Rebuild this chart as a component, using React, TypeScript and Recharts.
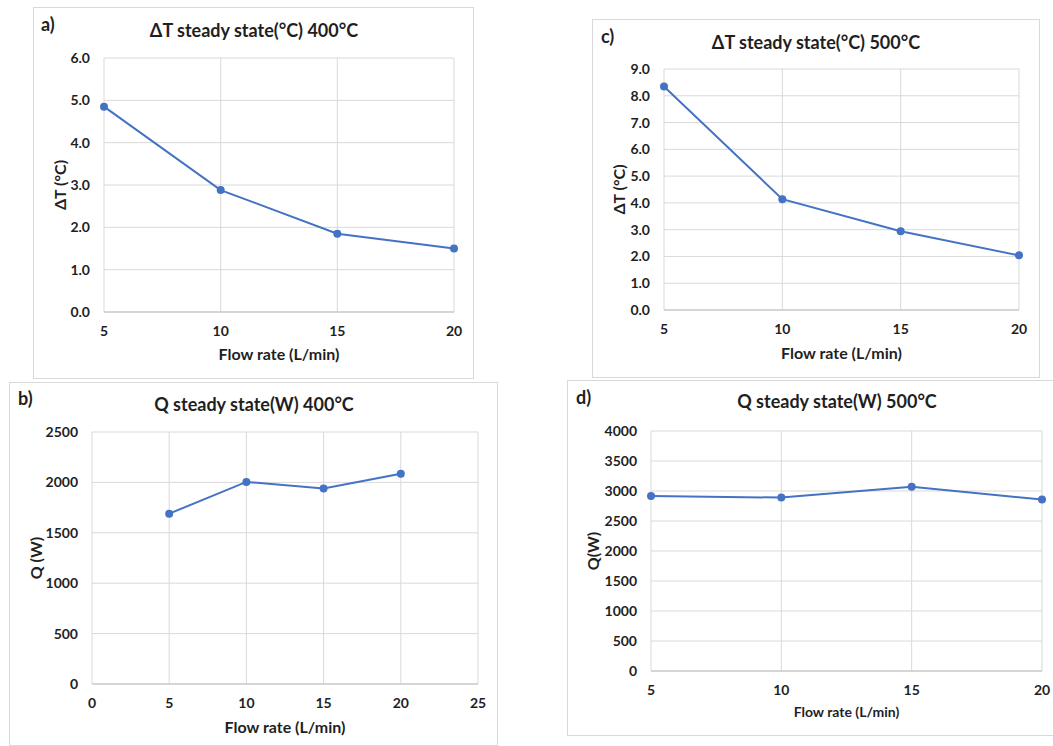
import React from 'react';
import { LineChart, Line, XAxis, YAxis, CartesianGrid, Label } from 'recharts';

const flowRates = [5, 10, 15, 20];
const deltaT400 = [4.85, 2.88, 1.85, 1.5];
const deltaT500 = [8.35, 4.14, 2.94, 2.04];
const q400 = [1690, 2005, 1940, 2085];
const q500 = [2918, 2890, 3071, 2857];

const dtTicks400 = [0, 1, 2, 3, 4, 5, 6];
const dtTicks500 = [0, 1, 2, 3, 4, 5, 6, 7, 8, 9];
const qTicks400 = [0, 500, 1000, 1500, 2000, 2500];
const qTicks500 = [0, 500, 1000, 1500, 2000, 2500, 3000, 3500, 4000];
const xTicksFlow = [5, 10, 15, 20];
const xTicksWide = [0, 5, 10, 15, 20, 25];

const FONT = 'Lato, "Open Sans", sans-serif';
const INK = '#1f1f1f';
const GRID = '#d9d9d9';
const BLUE = '#4472c4';

type Rect = { l: number; t: number; r: number; b: number };

interface PanelProps {
  frame: { x: number; y: number; w: number; h: number };
  plot: Rect;
  letter: string;
  letterPos: [number, number];
  title: string;
  titlePos: [number, number];
  values: number[];
  xTicks: number[];
  yTicks: number[];
  yFmt: (v: number) => string;
  yLabel: string;
  yLabelX: number;
  xLabelY: number;
  xLabelSize: number;
}

const Panel: React.FC<PanelProps> = (p) => {
  const data = flowRates.map((f, i) => ({ flow: f, value: p.values[i] }));
  const padL = 80;
  const padR = 20;
  const padT = 10;
  const padB = 70;
  const left = p.plot.l - padL;
  const top = p.plot.t - padT;
  const width = p.plot.r - p.plot.l + padL + padR;
  const height = p.plot.b - p.plot.t + padT + padB;
  const tickStyle = { fill: INK, fontSize: 14, fontWeight: 700, fontFamily: FONT };

  return (
    <>
      <div
        style={{
          position: 'absolute',
          left: p.frame.x,
          top: p.frame.y,
          width: p.frame.w,
          height: p.frame.h,
          border: `1px solid ${GRID}`,
          boxSizing: 'border-box',
          background: '#fff',
        }}
      />
      <div
        style={{
          position: 'absolute',
          left: p.letterPos[0],
          top: p.letterPos[1] - 10,
          lineHeight: '20px',
          fontFamily: FONT,
          fontWeight: 700,
          fontSize: 18,
          color: INK,
        }}
      >
        {p.letter}
      </div>
      <div
        style={{
          position: 'absolute',
          left: p.titlePos[0] - 200,
          width: 400,
          top: p.titlePos[1] - 10,
          lineHeight: '20px',
          textAlign: 'center',
          fontFamily: FONT,
          fontWeight: 700,
          fontSize: 18,
          color: INK,
        }}
      >
        {p.title}
      </div>
      <div style={{ position: 'absolute', left, top }}>
        <LineChart
          width={width}
          height={height}
          data={data}
          margin={{ top: padT, right: padR, left: 0, bottom: 0 }}
        >
          <CartesianGrid stroke={GRID} strokeWidth={1} />
          <XAxis
            dataKey="flow"
            type="number"
            domain={[p.xTicks[0], p.xTicks[p.xTicks.length - 1]]}
            ticks={p.xTicks}
            interval={0}
            height={padB}
            tickSize={0}
            tickMargin={14}
            tickLine={false}
            axisLine={{ stroke: '#bfbfbf' }}
            tick={tickStyle}
          >
            <Label
              value="Flow rate (L/min)"
              position="insideTop"
              offset={p.xLabelY - p.plot.b - 0.36 * p.xLabelSize}
              style={{ fill: INK, fontSize: p.xLabelSize, fontWeight: 700, fontFamily: FONT }}
            />
          </XAxis>
          <YAxis
            type="number"
            domain={[p.yTicks[0], p.yTicks[p.yTicks.length - 1]]}
            ticks={p.yTicks}
            interval={0}
            width={padL}
            tickSize={0}
            tickMargin={14}
            tickLine={false}
            axisLine={false}
            tick={tickStyle}
            tickFormatter={p.yFmt}
          >
            <Label
              value={p.yLabel}
              position="insideLeft"
              angle={-90}
              offset={p.yLabelX - left}
              style={{ fill: INK, fontSize: 16, fontWeight: 700, fontFamily: FONT, textAnchor: 'middle' }}
            />
          </YAxis>
          <Line
            type="linear"
            dataKey="value"
            stroke={BLUE}
            strokeWidth={2}
            dot={{ r: 4, fill: BLUE, stroke: BLUE, strokeWidth: 0 }}
            isAnimationActive={false}
          />
        </LineChart>
      </div>
    </>
  );
};

const oneDecimal = (v: number) => v.toFixed(1);
const plain = (v: number) => String(v);

export default function App() {
  return (
    <div
      style={{
        position: 'absolute',
        left: 0,
        top: 0,
        width: 1053,
        height: 746,
        overflow: 'hidden',
        background: '#fff',
      }}
    >
      <Panel
        frame={{ x: 33, y: 7, w: 441, h: 372 }}
        plot={{ l: 104, t: 58, r: 454, b: 312 }}
        letter="a)"
        letterPos={[41, 24]}
        title="ΔT steady state(°C) 400°C"
        titlePos={[254, 30]}
        values={deltaT400}
        xTicks={xTicksFlow}
        yTicks={dtTicks400}
        yFmt={oneDecimal}
        yLabel="ΔT (°C)"
        yLabelX={60}
        xLabelY={354}
        xLabelSize={16}
      />
      <Panel
        frame={{ x: 592, y: 19, w: 448, h: 359 }}
        plot={{ l: 664, t: 69, r: 1019, b: 310 }}
        letter="c)"
        letterPos={[601, 36]}
        title="ΔT steady state(°C) 500°C"
        titlePos={[816, 42]}
        values={deltaT500}
        xTicks={xTicksFlow}
        yTicks={dtTicks500}
        yFmt={oneDecimal}
        yLabel="ΔT (°C)"
        yLabelX={619}
        xLabelY={353}
        xLabelSize={16}
      />
      <Panel
        frame={{ x: 9, y: 382, w: 489, h: 364 }}
        plot={{ l: 92, t: 432, r: 478, b: 684 }}
        letter="b)"
        letterPos={[18, 398]}
        title="Q steady state(W) 400°C"
        titlePos={[254, 404]}
        values={q400}
        xTicks={xTicksWide}
        yTicks={qTicks400}
        yFmt={plain}
        yLabel="Q (W)"
        yLabelX={36}
        xLabelY={727}
        xLabelSize={16}
      />
      <Panel
        frame={{ x: 567, y: 380, w: 500, h: 356 }}
        plot={{ l: 651, t: 431, r: 1042, b: 671 }}
        letter="d)"
        letterPos={[576, 397]}
        title="Q steady state(W) 500°C"
        titlePos={[837, 401]}
        values={q500}
        xTicks={xTicksFlow}
        yTicks={qTicks500}
        yFmt={plain}
        yLabel="Q(W)"
        yLabelX={593}
        xLabelY={712}
        xLabelSize={14}
      />
    </div>
  );
}
